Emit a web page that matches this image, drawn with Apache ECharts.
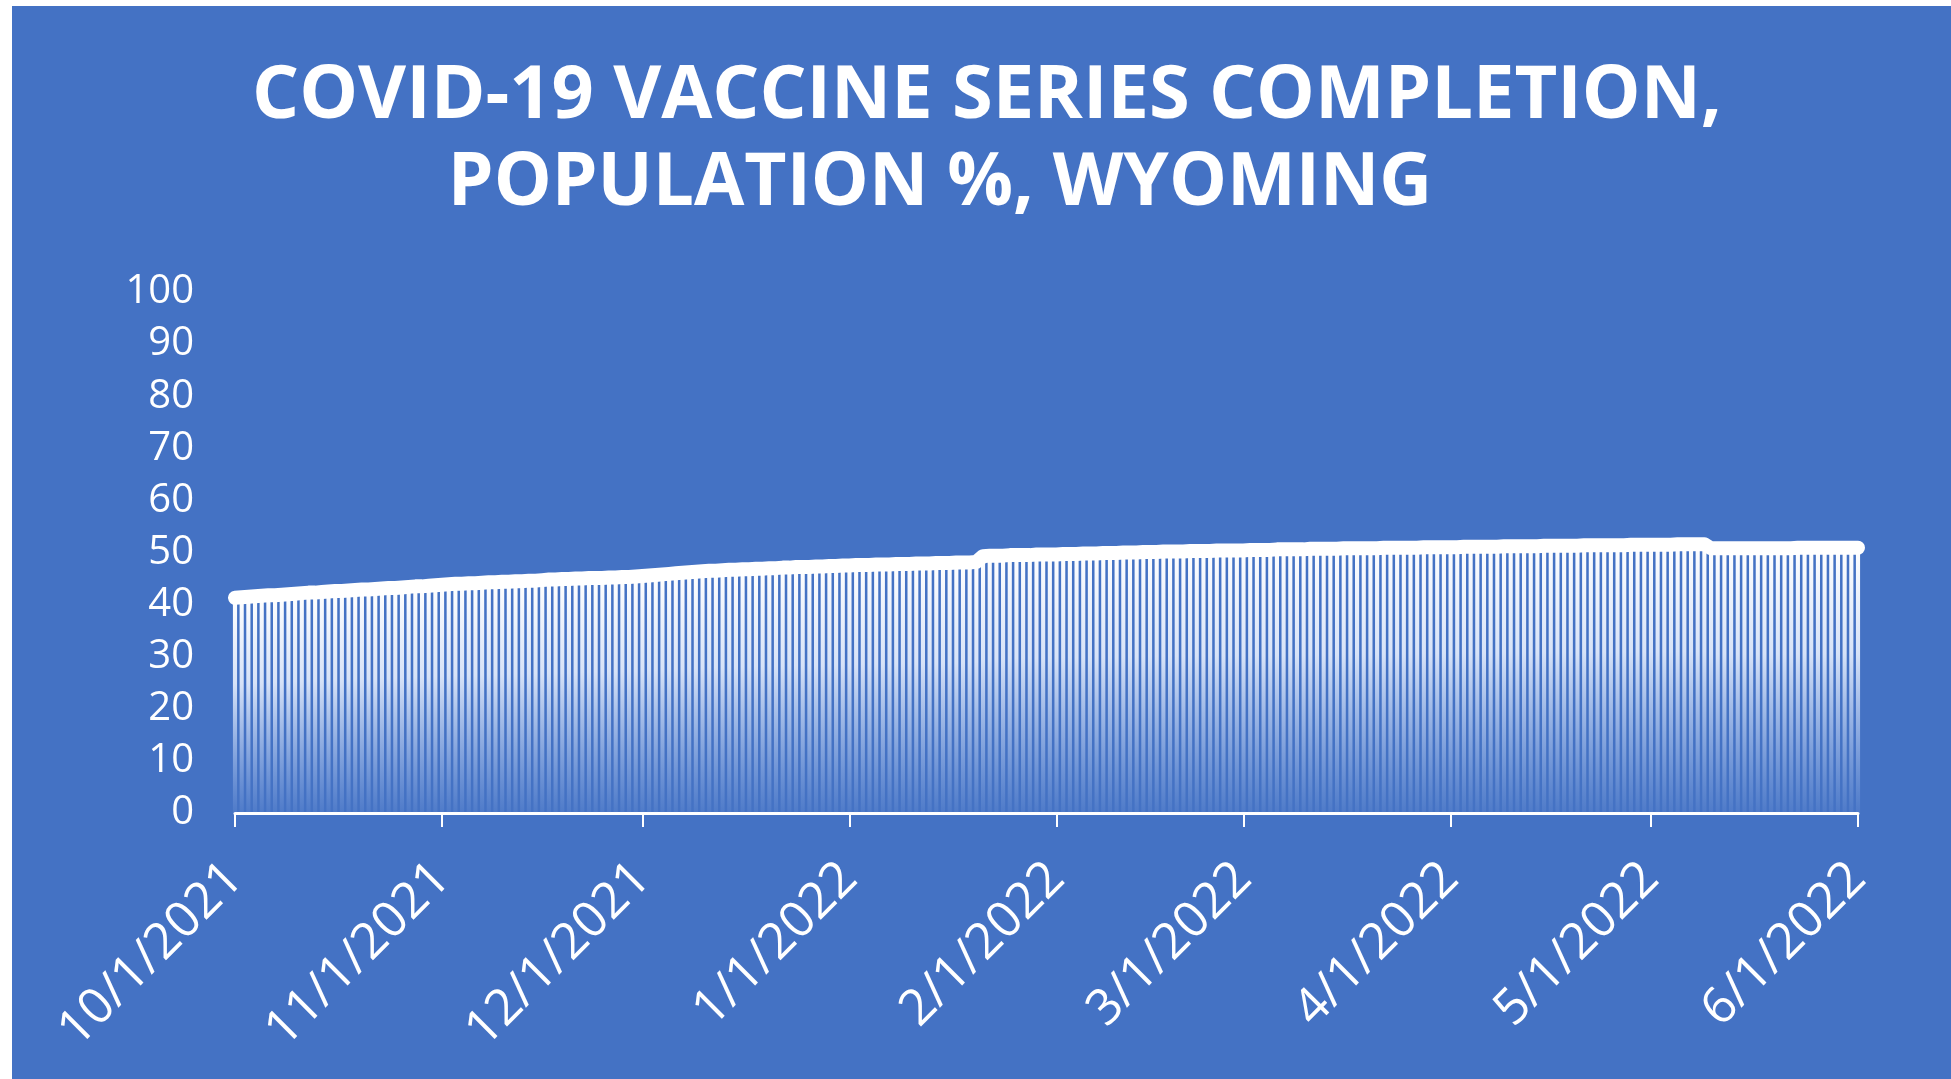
<!DOCTYPE html>
<html>
<head>
<meta charset="utf-8">
<style>
  html, body { margin: 0; padding: 0; background: #ffffff; }
  #chart { position: absolute; left: 12px; top: 6px; width: 1939px; height: 1073px; background: #4472C4; }
</style>
<script src="https://cdn.jsdelivr.net/npm/echarts@6/dist/echarts.min.js"></script>
</head>
<body>
<div id="chart"></div>
<script>
// ---------- data ----------
const titleLine1 = 'COVID-19 VACCINE SERIES COMPLETION,';
const titleLine2 = 'POPULATION %, WYOMING';
const startDate = '2021-10-01';
const yTicks = [0, 10, 20, 30, 40, 50, 60, 70, 80, 90, 100];

// % of population fully vaccinated, one value per day, 10/1/2021 .. 6/1/2022
const oct2021 = [41.3, 41.4, 41.5, 41.6, 41.7, 41.8, 41.8, 41.9, 42.0, 42.1,
                 42.2, 42.3, 42.3, 42.4, 42.5, 42.6, 42.6, 42.7, 42.8, 42.9,
                 42.9, 43.0, 43.1, 43.2, 43.2, 43.3, 43.4, 43.5, 43.5, 43.6, 43.7];
const nov2021 = [43.8, 43.9, 44.0, 44.0, 44.1, 44.1, 44.2, 44.3, 44.3, 44.4,
                 44.4, 44.5, 44.5, 44.6, 44.6, 44.7, 44.8, 44.8, 44.9, 44.9,
                 45.0, 45.0, 45.1, 45.1, 45.1, 45.2, 45.2, 45.3, 45.3, 45.4];
const dec2021 = [45.5, 45.6, 45.7, 45.8, 45.9, 46.0, 46.1, 46.2, 46.3, 46.4,
                 46.5, 46.5, 46.6, 46.7, 46.7, 46.8, 46.8, 46.9, 46.9, 47.0,
                 47.0, 47.1, 47.1, 47.2, 47.2, 47.2, 47.3, 47.3, 47.4, 47.4, 47.5];
const jan2022 = [47.5, 47.6, 47.6, 47.6, 47.7, 47.7, 47.7, 47.8, 47.8, 47.8,
                 47.9, 47.9, 47.9, 48.0, 48.0, 48.0, 48.1, 48.1, 48.1, 48.2,
                 49.3, 49.4, 49.4, 49.4, 49.5, 49.5, 49.5, 49.5, 49.6, 49.6, 49.6];
const feb2022 = [49.6, 49.7, 49.7, 49.7, 49.8, 49.8, 49.8, 49.9, 49.9, 49.9,
                 50.0, 50.0, 50.0, 50.1, 50.1, 50.1, 50.2, 50.2, 50.2, 50.2,
                 50.3, 50.3, 50.3, 50.3, 50.4, 50.4, 50.4, 50.4];
const mar2022 = [50.4, 50.5, 50.5, 50.5, 50.5, 50.6, 50.6, 50.6, 50.6, 50.6,
                 50.7, 50.7, 50.7, 50.7, 50.7, 50.8, 50.8, 50.8, 50.8, 50.8,
                 50.8, 50.9, 50.9, 50.9, 50.9, 50.9, 50.9, 51.0, 51.0, 51.0, 51.0];
const apr2022 = [51.0, 51.0, 51.1, 51.1, 51.1, 51.1, 51.1, 51.1, 51.2, 51.2,
                 51.2, 51.2, 51.2, 51.2, 51.3, 51.3, 51.3, 51.3, 51.3, 51.3,
                 51.4, 51.4, 51.4, 51.4, 51.4, 51.4, 51.4, 51.5, 51.5, 51.5];
const may2022 = [51.5, 51.5, 51.5, 51.5, 51.6, 51.6, 51.6, 51.6, 51.6, 50.8,
                 50.8, 50.8, 50.8, 50.8, 50.8, 50.8, 50.8, 50.8, 50.8, 50.8,
                 50.8, 50.8, 50.9, 50.9, 50.9, 50.9, 50.9, 50.9, 50.9, 50.9, 50.9];
const jun2022 = [50.9];

const values = [].concat(oct2021, nov2021, dec2021, jan2022, feb2022, mar2022, apr2022, may2022, jun2022);

// daily categories, M/D/YYYY
const categories = [];
{
  const d = new Date(startDate + 'T12:00:00');
  for (let i = 0; i < values.length; i++) {
    categories.push((d.getMonth() + 1) + '/' + d.getDate() + '/' + d.getFullYear());
    d.setDate(d.getDate() + 1);
  }
}
const isMonthStart = (idx, val) => String(categories[idx]).split('/')[1] === '1';

// ---------- chart ----------
const chart = echarts.init(document.getElementById('chart'));
const FONT = '"Open Sans", "DejaVu Sans", sans-serif';
chart.setOption({
  backgroundColor: '#4472C4',
  animation: false,
  title: [
    { text: titleLine1, left: 970, top: 49, textAlign: 'center',
      textStyle: { color: '#ffffff', fontFamily: FONT, fontWeight: 'bold', fontSize: 74 } },
    { text: titleLine2, left: 923, top: 137, textAlign: 'center',
      textStyle: { color: '#ffffff', fontFamily: FONT, fontWeight: 'bold', fontSize: 73 } }
  ],
  grid: { left: 223, right: 93, top: 286, bottom: 266, containLabel: false },
  xAxis: {
    type: 'category',
    data: categories,
    boundaryGap: false,
    axisLine: { show: true, lineStyle: { color: '#ffffff', width: 3 } },
    axisTick: { show: true, interval: isMonthStart, length: 14, lineStyle: { color: '#ffffff', width: 2 } },
    axisLabel: {
      interval: isMonthStart, rotate: 45, margin: 58,
      verticalAlign: 'middle', align: 'right',
      color: '#ffffff', fontFamily: FONT, fontSize: 50
    },
    splitLine: { show: false }
  },
  yAxis: {
    type: 'value',
    min: 0, max: 100, interval: 10,
    axisLine: { show: false },
    axisTick: { show: false },
    splitLine: { show: false },
    axisLabel: {
      margin: 41, color: '#ffffff', fontFamily: FONT, fontSize: 40,
      formatter: v => yTicks.includes(v) ? String(v) : ''
    }
  },
  series: [
    {
      type: 'bar',
      data: values,
      barWidth: '62%',
      itemStyle: {
        color: new echarts.graphic.LinearGradient(0, 0, 0, 1, [
          { offset: 0, color: 'rgba(255,255,255,1)' },
          { offset: 0.4, color: 'rgba(235,242,255,0.88)' },
          { offset: 1, color: 'rgba(200,220,255,0.08)' }
        ])
      },
      z: 2
    },
    {
      type: 'line',
      data: values,
      showSymbol: false,
      symbol: 'none',
      lineStyle: { color: '#ffffff', width: 14, cap: 'round', join: 'round' },
      z: 3
    }
  ]
});
</script>
</body>
</html>
